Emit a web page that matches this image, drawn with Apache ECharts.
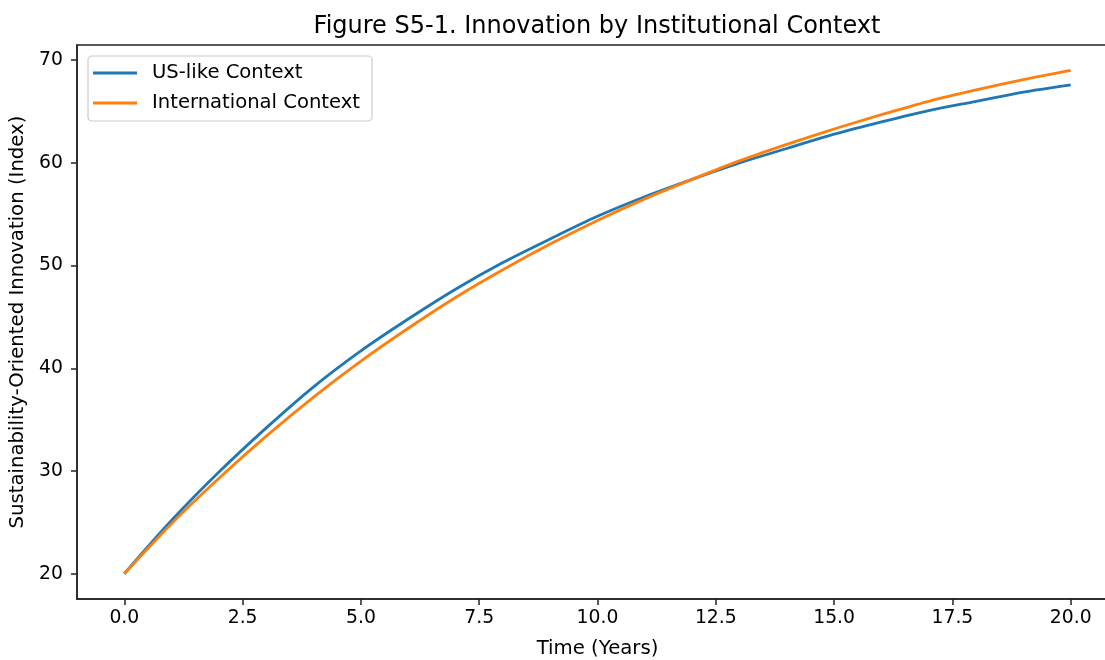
<!DOCTYPE html>
<html>
<head>
<meta charset="utf-8">
<script src="https://cdn.jsdelivr.net/npm/echarts@6/dist/echarts.min.js"></script>
<style>
html,body{margin:0;padding:0;background:#fff;overflow:hidden;}
#chart{width:1105px;height:660px;}
</style>
</head>
<body>
<div id="chart"></div>
<script>
const years = [0,1,2,3,4,5,6,7,8,9,10,11,12,13,14,15,16,17,18,19,20];
const usLike = [20, 25.2, 29.9, 34.2, 38.2, 41.7, 44.8, 47.7, 50.3, 52.6, 54.8, 56.7, 58.4, 60.0, 61.4, 62.8, 64.0, 65.1, 66.0, 66.9, 67.6];
const international = [20, 24.9, 29.3, 33.4, 37.2, 40.7, 43.9, 46.9, 49.6, 52.1, 54.4, 56.5, 58.4, 60.2, 61.8, 63.3, 64.7, 66.0, 67.1, 68.1, 69.0];
const xTicks = [0, 2.5, 5, 7.5, 10, 12.5, 15, 17.5, 20];
const yTicks = [20, 30, 40, 50, 60, 70];
const seriesNames = ['US-like Context', 'International Context'];
const titleText = 'Figure S5-1. Innovation by Institutional Context';
const xName = 'Time (Years)';
const yName = 'Sustainability-Oriented Innovation (Index)';

const font = 'DejaVu Sans';
const chart = echarts.init(document.getElementById('chart'), null, {renderer: 'canvas'});
const toPairs = arr => years.map((t, i) => [t, arr[i]]);

chart.setOption({
  animation: false,
  backgroundColor: '#ffffff',
  title: {
    text: titleText,
    left: 592,
    top: 10,
    textAlign: 'center',
    textStyle: {fontFamily: font, fontSize: 24, fontWeight: 'normal', color: '#000'}
  },
  legend: {
    orient: 'vertical',
    left: 88,
    top: 56,
    padding: [7, 12, 8, 5],
    itemGap: 10,
    itemWidth: 44,
    itemHeight: 20,
    backgroundColor: '#fff',
    borderColor: '#cccccc',
    borderWidth: 1.2,
    borderRadius: 4,
    textStyle: {fontFamily: font, fontSize: 19.6, color: '#000', padding: [0, 0, 0, 10]},
    data: seriesNames.map(n => ({name: n, icon: 'path://M0,0 H44 V2.8 H0 Z'}))
  },
  grid: {
    left: 77,
    top: 45,
    width: 1041,
    height: 554,
    outerBoundsMode: 'none',
    show: true,
    borderColor: '#222',
    borderWidth: 1.5,
    containLabel: false
  },
  xAxis: {
    type: 'value',
    min: -1,
    max: 21,
    name: xName,
    nameLocation: 'middle',
    nameGap: 40,
    nameTextStyle: {fontFamily: font, fontSize: 19.7, color: '#000'},
    axisLine: {show: true, onZero: false, lineStyle: {color: '#222', width: 1.5}},
    axisTick: {show: true, length: 6, lineStyle: {color: '#222', width: 1.5}, customValues: xTicks},
    axisLabel: {fontFamily: font, fontSize: 18.8, color: '#000', margin: 10, customValues: xTicks,
      formatter: v => Number(v).toFixed(1)},
    splitLine: {show: false}
  },
  yAxis: {
    type: 'value',
    min: 17.54,
    max: 71.48,
    name: yName,
    nameLocation: 'middle',
    nameGap: 47,
    nameTextStyle: {fontFamily: font, fontSize: 19.7, color: '#000'},
    axisLine: {show: true, onZero: false, lineStyle: {color: '#222', width: 1.5}},
    axisTick: {show: true, length: 6, lineStyle: {color: '#222', width: 1.5}, customValues: yTicks},
    axisLabel: {fontFamily: font, fontSize: 18.8, color: '#000', margin: 14, customValues: yTicks},
    splitLine: {show: false}
  },
  series: [
    {
      name: seriesNames[0],
      type: 'line',
      data: toPairs(usLike),
      symbol: 'none',
      smooth: 0.3,
      lineStyle: {color: '#1f77b4', width: 2.8},
      itemStyle: {color: '#1f77b4'},
      z: 2
    },
    {
      name: seriesNames[1],
      type: 'line',
      data: toPairs(international),
      symbol: 'none',
      smooth: 0.3,
      lineStyle: {color: '#ff7f0e', width: 2.8},
      itemStyle: {color: '#ff7f0e'},
      z: 3
    }
  ]
});
</script>
</body>
</html>
